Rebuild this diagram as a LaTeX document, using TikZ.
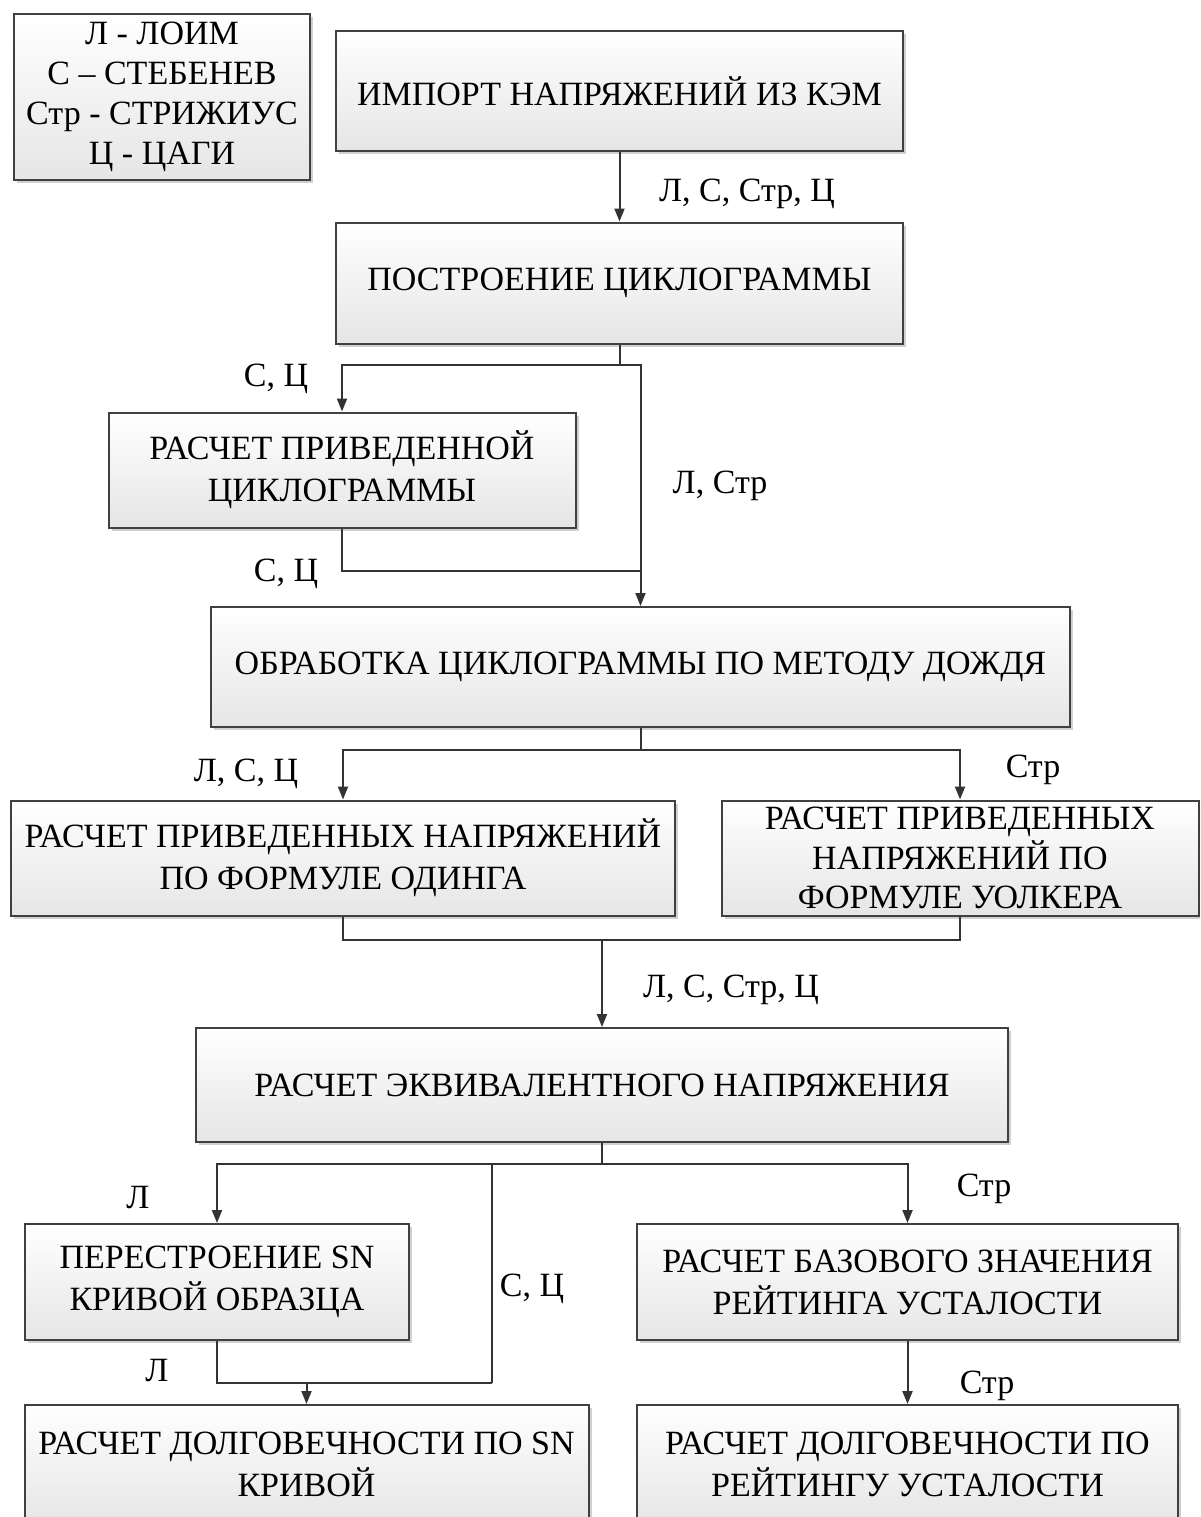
\documentclass[tikz,border=0pt]{standalone}
\usepackage{fontspec}
\setmainfont{Liberation Serif}
\usetikzlibrary{arrows.meta,shadows}
\begin{document}
\begin{tikzpicture}[x=1pt,y=-1pt,
  box/.style={draw=black!75, line width=2pt, top color=white, bottom color=black!10,
    drop shadow={shadow xshift=3pt,shadow yshift=-3pt,opacity=0.3,fill=black!60},
    inner sep=0pt, align=center, font=\fontsize{34}{42}\selectfont},
  lbl/.style={font=\fontsize{34}{42}\selectfont, inner sep=0pt, anchor=base},
  con/.style={draw=black!80, line width=2pt},
  arr/.style={con, -{Triangle[length=13pt,width=10pt]}}]
\useasboundingbox (0,0) rectangle (1200,1517);
\clip (0,0) rectangle (1200,1517);
\fill[white] (0,0) rectangle (1200,1517);

% boxes
\node[box, minimum width=296pt, minimum height=166pt, font=\fontsize{34}{40}\selectfont] (leg) at (162,97)
  {Л - ЛОИМ\\С – СТЕБЕНЕВ\\Стр - СТРИЖИУС\\Ц - ЦАГИ};
\node[box, minimum width=567pt, minimum height=120pt] (b1) at (619.5,91) {ИМПОРТ НАПРЯЖЕНИЙ ИЗ КЭМ};
\node[box, minimum width=567pt, minimum height=121pt] (b2) at (619.5,283) {ПОСТРОЕНИЕ ЦИКЛОГРАММЫ};
\node[box, minimum width=467pt, minimum height=115pt] (b3) at (342,470) {РАСЧЕТ ПРИВЕДЕННОЙ\\ЦИКЛОГРАММЫ};
\node[box, minimum width=859pt, minimum height=120pt] (b4) at (640.5,667) {ОБРАБОТКА ЦИКЛОГРАММЫ ПО МЕТОДУ ДОЖДЯ};
\node[box, minimum width=664pt, minimum height=115pt] (b5) at (343,858) {РАСЧЕТ ПРИВЕДЕННЫХ НАПРЯЖЕНИЙ\\ПО ФОРМУЛЕ ОДИНГА};
\node[box, minimum width=477pt, minimum height=115pt, font=\fontsize{34}{39.5}\selectfont] (b6) at (960,858) {РАСЧЕТ ПРИВЕДЕННЫХ\\НАПРЯЖЕНИЙ ПО\\ФОРМУЛЕ УОЛКЕРА};
\node[box, minimum width=812pt, minimum height=114pt] (b7) at (602,1085) {РАСЧЕТ ЭКВИВАЛЕНТНОГО НАПРЯЖЕНИЯ};
\node[box, minimum width=384pt, minimum height=116pt] (b8) at (217,1282) {ПЕРЕСТРОЕНИЕ SN\\КРИВОЙ ОБРАЗЦА};
\node[box, minimum width=541pt, minimum height=116pt] (b9) at (907.5,1282) {РАСЧЕТ БАЗОВОГО ЗНАЧЕНИЯ\\РЕЙТИНГА УСТАЛОСТИ};
\node[box, minimum width=564pt, minimum height=118pt] (b10) at (306.5,1464) {РАСЧЕТ ДОЛГОВЕЧНОСТИ ПО SN\\КРИВОЙ};
\node[box, minimum width=541pt, minimum height=118pt] (b11) at (907.5,1464) {РАСЧЕТ ДОЛГОВЕЧНОСТИ ПО\\РЕЙТИНГУ УСТАЛОСТИ};

% junction points
\coordinate (j1) at (619.5,365);
\coordinate (j2) at (640.5,571);
\coordinate (j3) at (640.5,750);
\coordinate (j4) at (602,940);
\coordinate (j5) at (602,1164);
\coordinate (j6) at (492,1164);
\coordinate (j8) at (492,1383);
\coordinate (j7) at (306.5,1383);

% connectors
\draw[arr] (b1.south) -- (b2.north);
\draw[con] (b2.south) -- (j1);
\draw[arr] (j1) -| (b3.north);
\draw[arr] (j1) -| (b4.north);
\draw[con] (b3.south) |- (j2);
\draw[con] (b4.south) -- (j3);
\draw[arr] (j3) -| (b5.north);
\draw[arr] (j3) -| (b6.north);
\draw[con] (b5.south) |- (j4);
\draw[con] (b6.south) |- (j4);
\draw[arr] (j4) -- (b7.north);
\draw[con] (b7.south) -- (j5);
\draw[arr] (j5) -| (b8.north);
\draw[arr] (j5) -| (b9.north);
\draw[con] (j6) -- (j8);
\draw[con] (b8.south) |- (j8);
\draw[arr] (j7) -- (b10.north);
\draw[arr] (b9.south) -- (b11.north);

% labels
\node[lbl] (l1) at (747,201) {Л, С, Стр, Ц};
\node[lbl] (l2) at (276,386) {С, Ц};
\node[lbl] (l3) at (720,493) {Л, Стр};
\node[lbl] (l4) at (286,581) {С, Ц};
\node[lbl] (l5) at (246,781) {Л, С, Ц};
\node[lbl] (l6) at (1033,777) {Стр};
\node[lbl] (l7) at (731,997) {Л, С, Стр, Ц};
\node[lbl] (l8) at (138,1208) {Л};
\node[lbl] (l9) at (984,1196) {Стр};
\node[lbl] (l10) at (532,1296) {С, Ц};
\node[lbl] (l11) at (157,1381) {Л};
\node[lbl] (l12) at (987,1393) {Стр};
\end{tikzpicture}
\end{document}
